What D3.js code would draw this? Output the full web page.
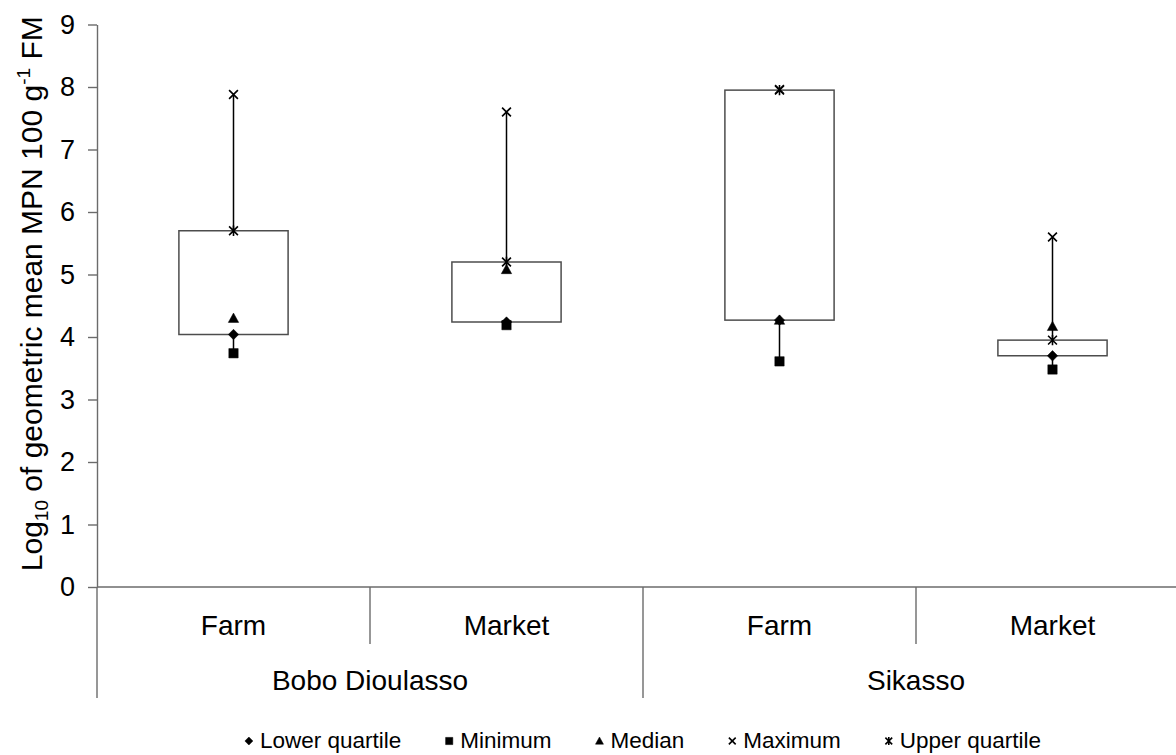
<!DOCTYPE html>
<html>
<head>
<meta charset="utf-8">
<script src="https://cdn.jsdelivr.net/npm/d3@7"></script>
<style>
  html, body { margin: 0; padding: 0; background: #fff; }
  svg { display: block; font-family: "Liberation Sans", Arial, sans-serif; }
</style>
</head>
<body>
<script>
// Category levels
const groups = ["Bobo Dioulasso", "Sikasso"];
const sites = ["Farm", "Market", "Farm", "Market"];
const siteGroup = [0, 0, 1, 1];

// Log10 MPN statistics per site (same order as sites)
const minimum       = [3.74, 4.19, 3.61, 3.48];
const lowerQuartile = [4.04, 4.24, 4.27, 3.70];
const median        = [4.30, 5.08, 4.27, 4.17];
const upperQuartile = [5.70, 5.20, 7.95, 3.95];
const maximum       = [7.88, 7.60, 7.96, 5.60];

const yTicks = [0, 1, 2, 3, 4, 5, 6, 7, 8, 9];
const legendLabels = ["Lower quartile", "Minimum", "Median", "Maximum", "Upper quartile"];

const W = 1176, H = 755;
const svg = d3.select("body").append("svg").attr("width", W).attr("height", H);

const plot = { left: 97, right: 1189, top: 24.5, bottom: 587 };
const axisColor = "#6b6b6b";

const y = d3.scaleLinear().domain([0, 9]).range([plot.bottom, plot.top]);
const x = d3.scaleBand().domain(d3.range(sites.length)).range([plot.left, plot.right]).padding(0);
const bw = x.bandwidth();
const cx = i => x(i) + bw / 2;

// Y axis
const yAxis = svg.append("g")
  .attr("transform", `translate(${plot.left},0)`)
  .call(d3.axisLeft(y).tickValues(yTicks).tickSize(9).tickSizeOuter(0).tickPadding(13).tickFormat(d3.format("d")));
yAxis.select(".domain").attr("stroke", axisColor).attr("stroke-width", 1.4);
yAxis.selectAll(".tick line").attr("stroke", axisColor).attr("stroke-width", 1.4);
yAxis.selectAll(".tick text").attr("font-size", 27).attr("fill", "#000")
  .attr("font-family", "'Liberation Sans', Arial, sans-serif");

// Y title
const yTitle = svg.append("text")
  .attr("transform", `translate(42,${(plot.top + plot.bottom) / 2 - 12}) rotate(-90)`)
  .attr("text-anchor", "middle")
  .attr("font-size", 30)
  .attr("fill", "#000");
yTitle.append("tspan").text("Log");
yTitle.append("tspan").attr("font-size", 19).attr("dy", 6).text("10");
yTitle.append("tspan").attr("dy", -6).text(" of geometric mean MPN 100 g");
yTitle.append("tspan").attr("font-size", 19).attr("dy", -12).text("-1");
yTitle.append("tspan").attr("dy", 12).text(" FM");

// Category axis: baseline, dividers and labels
const xAxis = svg.append("g");
xAxis.append("line")
  .attr("x1", plot.left).attr("x2", plot.right)
  .attr("y1", plot.bottom).attr("y2", plot.bottom)
  .attr("stroke", axisColor).attr("stroke-width", 1.4);

const boundaries = d3.range(sites.length + 1).map(i => ({
  x: i < sites.length ? x(i) : plot.right,
  major: i === 0 || i === sites.length || siteGroup[i] !== siteGroup[i - 1]
}));
xAxis.selectAll("line.div").data(boundaries).join("line")
  .attr("class", "div")
  .attr("x1", d => d.x).attr("x2", d => d.x)
  .attr("y1", plot.bottom)
  .attr("y2", d => d.major ? plot.bottom + 111 : plot.bottom + 57)
  .attr("stroke", axisColor).attr("stroke-width", 1.4);

xAxis.selectAll("text.site").data(sites).join("text")
  .attr("class", "site")
  .attr("x", (d, i) => cx(i)).attr("y", plot.bottom + 48)
  .attr("text-anchor", "middle").attr("font-size", 28).attr("fill", "#000")
  .text(d => d);

xAxis.selectAll("text.grp").data(groups).join("text")
  .attr("class", "grp")
  .attr("x", (d, g) => {
    const idx = siteGroup.map((v, i) => v === g ? i : -1).filter(i => i >= 0);
    return (x(idx[0]) + x(idx[idx.length - 1]) + bw) / 2;
  })
  .attr("y", plot.bottom + 103)
  .attr("text-anchor", "middle").attr("font-size", 28).attr("fill", "#000")
  .text(d => d);

// Marker shapes
const markerPath = {
  diamond: s => `M0,${-s}L${s},0L0,${s}L${-s},0Z`,
  square: s => `M${-s * 0.9},${-s * 0.9}H${s * 0.9}V${s * 0.9}H${-s * 0.9}Z`,
  triangle: s => `M0,${-s}L${s},${s * 0.8}L${-s},${s * 0.8}Z`,
  cross: s => `M${-s * 0.85},${-s * 0.85}L${s * 0.85},${s * 0.85}M${s * 0.85},${-s * 0.85}L${-s * 0.85},${s * 0.85}`,
  star: s => `M${-s * 0.85},${-s * 0.85}L${s * 0.85},${s * 0.85}M${s * 0.85},${-s * 0.85}L${-s * 0.85},${s * 0.85}M0,${-s}L0,${s}`
};
const series = [
  { name: legendLabels[0], values: lowerQuartile, shape: "diamond", filled: true },
  { name: legendLabels[1], values: minimum, shape: "square", filled: true },
  { name: legendLabels[2], values: median, shape: "triangle", filled: true },
  { name: legendLabels[3], values: maximum, shape: "cross", filled: false },
  { name: legendLabels[4], values: upperQuartile, shape: "star", filled: false }
];
function drawMarker(sel, shape, filled, s) {
  sel.attr("d", markerPath[shape](s))
    .attr("fill", filled ? "#000" : "none")
    .attr("stroke", "#000")
    .attr("stroke-width", filled ? 0.5 : 1.6);
}

// High-low lines
svg.append("g").selectAll("line").data(sites).join("line")
  .attr("x1", (d, i) => cx(i)).attr("x2", (d, i) => cx(i))
  .attr("y1", (d, i) => y(minimum[i])).attr("y2", (d, i) => y(maximum[i]))
  .attr("stroke", "#000").attr("stroke-width", 1.5);

// Quartile boxes
const boxW = bw * 0.4;
svg.append("g").selectAll("rect").data(sites).join("rect")
  .attr("x", (d, i) => cx(i) - boxW / 2)
  .attr("width", boxW)
  .attr("y", (d, i) => y(Math.max(lowerQuartile[i], upperQuartile[i])))
  .attr("height", (d, i) => Math.abs(y(lowerQuartile[i]) - y(upperQuartile[i])))
  .attr("fill", "#fff").attr("stroke", "#4d4d4d").attr("stroke-width", 1.5);

// Markers, one layer per series
series.forEach(s => {
  svg.append("g").selectAll("path").data(s.values).join("path")
    .attr("transform", (v, i) => `translate(${cx(i)},${y(v)})`)
    .call(sel => drawMarker(sel, s.shape, s.filled, 5.2));
});

// Legend
const legend = svg.append("g");
const legendY = 741;
let lx = 0;
series.forEach(s => {
  const g = legend.append("g");
  g.append("path").attr("transform", `translate(${lx},${legendY})`)
    .call(sel => drawMarker(sel, s.shape, s.filled, 4));
  const t = g.append("text").attr("x", lx + 11).attr("y", legendY + 7)
    .attr("font-size", 22.5).attr("fill", "#000").text(s.name);
  const w = t.node().getComputedTextLength();
  lx = lx + 11 + w + 48;
});
const lb = legend.node().getBBox();
legend.attr("transform", `translate(${643 - (lb.x + lb.width / 2)},0)`);
</script>
</body>
</html>
